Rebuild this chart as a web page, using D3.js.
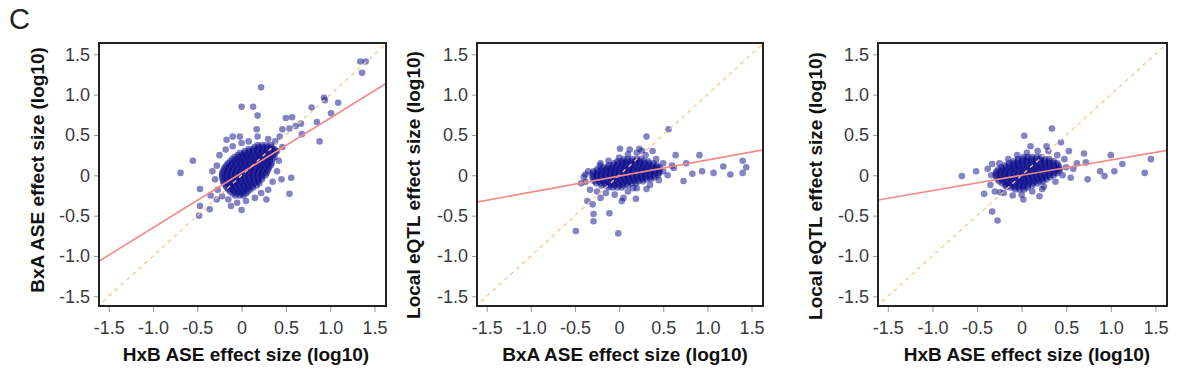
<!DOCTYPE html>
<html>
<head>
<meta charset="utf-8">
<script src="https://cdn.jsdelivr.net/npm/d3@7"></script>
<style>
  body { margin: 0; background: #fff; }
  svg { display: block; font-family: "Liberation Sans", Arial, Helvetica, sans-serif; }
</style>
</head>
<body>
<div id="chart"></div>
<script>
const tickValues = [-1.5, -1.0, -0.5, 0, 0.5, 1.0, 1.5];
const xTitles = ["HxB ASE effect size (log10)", "BxA ASE effect size (log10)", "HxB ASE effect size (log10)"];
const yTitles = ["BxA ASE effect size (log10)", "Local eQTL effect size (log10)", "Local eQTL effect size (log10)"];
// fitted lines: [slope, intercept]
const fits = [[0.68, 0.03], [0.20, -0.01], [0.19, 0.0]];

// dense cores, stored row by row: [y, [x values]]
const core1 = [
  [0.375, [0.18,0.23,0.28,0.33]],
  [0.35, [0.145,0.195,0.245,0.295,0.345]],
  [0.325, [0.08,0.13,0.18,0.23,0.28,0.33,0.37]],
  [0.30, [0.035,0.085,0.135,0.185,0.235,0.285,0.335,0.38]],
  [0.275, [-0.02,0.03,0.08,0.13,0.18,0.23,0.28,0.33,0.38]],
  [0.25, [-0.045,0.005,0.055,0.105,0.155,0.205,0.255,0.305,0.355]],
  [0.225, [-0.08,-0.03,0.02,0.07,0.12,0.17,0.22,0.27,0.32,0.37]],
  [0.20, [-0.105,-0.055,-0.005,0.045,0.095,0.145,0.195,0.245,0.295,0.345]],
  [0.175, [-0.13,-0.08,-0.03,0.02,0.07,0.12,0.17,0.22,0.27,0.32]],
  [0.15, [-0.155,-0.105,-0.055,-0.005,0.045,0.095,0.145,0.195,0.245,0.295,0.34]],
  [0.125, [-0.17,-0.12,-0.07,-0.02,0.03,0.08,0.13,0.18,0.23,0.28,0.33]],
  [0.10, [-0.19,-0.14,-0.09,-0.04,0.01,0.06,0.11,0.16,0.21,0.26,0.31]],
  [0.075, [-0.20,-0.15,-0.10,-0.05,0.00,0.05,0.10,0.15,0.20,0.25,0.30]],
  [0.05, [-0.21,-0.16,-0.11,-0.06,-0.01,0.04,0.09,0.14,0.19,0.24,0.29]],
  [0.025, [-0.22,-0.17,-0.12,-0.07,-0.02,0.03,0.08,0.13,0.18,0.23,0.28]],
  [0.00, [-0.22,-0.17,-0.12,-0.07,-0.02,0.03,0.08,0.13,0.18,0.23,0.27]],
  [-0.025, [-0.22,-0.17,-0.12,-0.07,-0.02,0.03,0.08,0.13,0.18,0.23]],
  [-0.05, [-0.21,-0.16,-0.11,-0.06,-0.01,0.04,0.09,0.14,0.19,0.23]],
  [-0.075, [-0.21,-0.16,-0.11,-0.06,-0.01,0.04,0.09,0.14,0.19]],
  [-0.10, [-0.20,-0.15,-0.10,-0.05,0.00,0.05,0.10,0.15,0.20]],
  [-0.125, [-0.18,-0.13,-0.08,-0.03,0.02,0.07,0.12,0.17]],
  [-0.15, [-0.17,-0.12,-0.07,-0.02,0.03,0.08,0.13]],
  [-0.175, [-0.15,-0.10,-0.05,0.00,0.05,0.10]],
  [-0.20, [-0.13,-0.08,-0.03,0.02,0.07]],
  [-0.225, [-0.10,-0.05,0.00,0.05]],
  [-0.25, [-0.07,-0.02,0.02]]
];
const core2 = [
  [0.20, [0.05,0.10,0.15,0.20,0.25]],
  [0.175, [-0.02,0.03,0.08,0.13,0.18,0.23,0.28,0.33]],
  [0.15, [-0.06,-0.01,0.04,0.09,0.14,0.19,0.24,0.29,0.34,0.39]],
  [0.125, [-0.12,-0.07,-0.02,0.03,0.08,0.13,0.18,0.23,0.28,0.33,0.38,0.43]],
  [0.10, [-0.18,-0.13,-0.08,-0.03,0.02,0.07,0.12,0.17,0.22,0.27,0.32,0.37,0.42,0.46]],
  [0.075, [-0.25,-0.20,-0.15,-0.10,-0.05,0.00,0.05,0.10,0.15,0.20,0.25,0.30,0.35,0.40,0.45]],
  [0.05, [-0.29,-0.24,-0.19,-0.14,-0.09,-0.04,0.01,0.06,0.11,0.16,0.21,0.26,0.31,0.36,0.41,0.46]],
  [0.025, [-0.30,-0.25,-0.20,-0.15,-0.10,-0.05,0.00,0.05,0.10,0.15,0.20,0.25,0.30,0.35,0.40,0.45]],
  [0.00, [-0.30,-0.25,-0.20,-0.15,-0.10,-0.05,0.00,0.05,0.10,0.15,0.20,0.25,0.30,0.35,0.40,0.44]],
  [-0.025, [-0.30,-0.25,-0.20,-0.15,-0.10,-0.05,0.00,0.05,0.10,0.15,0.20,0.25,0.30,0.35,0.40]],
  [-0.05, [-0.29,-0.24,-0.19,-0.14,-0.09,-0.04,0.01,0.06,0.11,0.16,0.21,0.26,0.31,0.36]],
  [-0.075, [-0.28,-0.23,-0.18,-0.13,-0.08,-0.03,0.02,0.07,0.12,0.17,0.22,0.27]],
  [-0.10, [-0.26,-0.21,-0.16,-0.11,-0.06,-0.01,0.04,0.09,0.14,0.19]],
  [-0.125, [-0.20,-0.15,-0.10,-0.05,0.00,0.05,0.10]],
  [-0.15, [-0.12,-0.07,-0.02,0.03]]
];
const core3 = [
  [0.225, [0.02,0.07,0.12,0.17,0.22]],
  [0.20, [-0.04,0.01,0.06,0.11,0.16,0.21,0.26,0.31]],
  [0.175, [-0.09,-0.04,0.01,0.06,0.11,0.16,0.21,0.26,0.31,0.36]],
  [0.15, [-0.14,-0.09,-0.04,0.01,0.06,0.11,0.16,0.21,0.26,0.31,0.36,0.40]],
  [0.125, [-0.19,-0.14,-0.09,-0.04,0.01,0.06,0.11,0.16,0.21,0.26,0.31,0.36,0.41]],
  [0.10, [-0.23,-0.18,-0.13,-0.08,-0.03,0.02,0.07,0.12,0.17,0.22,0.27,0.32,0.37,0.42]],
  [0.075, [-0.26,-0.21,-0.16,-0.11,-0.06,-0.01,0.04,0.09,0.14,0.19,0.24,0.29,0.34,0.39,0.43]],
  [0.05, [-0.28,-0.23,-0.18,-0.13,-0.08,-0.03,0.02,0.07,0.12,0.17,0.22,0.27,0.32,0.37,0.42]],
  [0.025, [-0.29,-0.24,-0.19,-0.14,-0.09,-0.04,0.01,0.06,0.11,0.16,0.21,0.26,0.31,0.36,0.40]],
  [0.00, [-0.29,-0.24,-0.19,-0.14,-0.09,-0.04,0.01,0.06,0.11,0.16,0.21,0.26,0.31,0.36]],
  [-0.025, [-0.28,-0.23,-0.18,-0.13,-0.08,-0.03,0.02,0.07,0.12,0.17,0.22,0.27,0.32]],
  [-0.05, [-0.27,-0.22,-0.17,-0.12,-0.07,-0.02,0.03,0.08,0.13,0.18,0.23,0.28]],
  [-0.075, [-0.25,-0.20,-0.15,-0.10,-0.05,0.00,0.05,0.10,0.15,0.20,0.24]],
  [-0.10, [-0.22,-0.17,-0.12,-0.07,-0.02,0.03,0.08,0.13,0.18]],
  [-0.125, [-0.18,-0.13,-0.08,-0.03,0.02,0.07,0.12]],
  [-0.15, [-0.13,-0.08,-0.03,0.02,0.07]],
  [-0.175, [-0.07,-0.02,0.03]]
];

// fringe and isolated points: [x, y]
const halo1 = [
  [-0.28,0.12],[-0.30,-0.05],[-0.27,-0.18],[-0.25,0.25],[-0.18,0.32],[-0.10,0.36],[0.00,0.40],[0.08,0.42],
  [0.40,0.30],[0.42,0.18],[0.40,0.05],[0.35,-0.08],[0.30,-0.18],[0.22,-0.22],[0.15,-0.28],[0.05,-0.32],
  [-0.05,-0.34],[-0.15,-0.30],[-0.22,-0.26],[-0.33,0.05],[0.46,0.35],[0.38,0.42],[0.30,0.45],[-0.35,-0.25],
  [0.45,-0.05],[0.18,0.48],[-0.12,-0.38],[0.28,-0.30]
];
const outer1 = [
  [1.34,1.41],[1.40,1.41],[1.36,1.27],[0.22,1.09],[0.00,0.85],[0.13,0.85],[0.18,0.74],
  [0.93,0.96],[0.94,0.93],[1.09,0.90],[0.79,0.84],[1.01,0.77],[0.85,0.66],[0.88,0.42],[0.68,0.51],
  [0.67,0.64],[0.61,0.61],[0.54,0.58],[0.57,0.72],[0.46,0.57],[0.43,0.48],[0.50,0.71],[0.17,0.57],
  [-0.69,0.03],[-0.55,0.18],[-0.47,-0.17],[-0.47,-0.38],[-0.48,-0.50],[-0.36,-0.42],[-0.28,-0.30],
  [0.54,-0.23],[0.56,-0.03],[0.00,-0.43],[-0.10,0.48],[-0.17,0.44],[-0.02,0.48]
];
const halo2 = [
  [-0.35,0.05],[-0.38,-0.08],[-0.33,-0.18],[-0.25,-0.20],[-0.15,-0.22],[-0.05,-0.24],[0.10,-0.20],[0.20,-0.16],
  [0.35,-0.12],[0.45,-0.06],[0.50,0.05],[0.50,0.15],[0.42,0.20],[0.30,0.25],[0.20,0.28],[0.10,0.26],
  [0.00,0.22],[-0.12,0.18],[-0.22,0.12],[0.55,0.00],[0.60,0.12],[-0.40,-0.02],[0.05,-0.28],[0.26,0.30]
];
const outer2 = [
  [0.56,0.57],[0.31,0.48],[0.01,0.33],[0.91,0.25],[0.76,0.15],[0.64,0.25],[1.18,0.11],[1.40,0.18],
  [1.44,0.10],[1.26,0.01],[1.40,0.03],[1.07,0.03],[0.94,0.05],[0.83,0.02],[0.73,-0.07],[0.62,0.09],
  [-0.49,-0.69],[-0.01,-0.72],[-0.29,-0.57],[-0.29,-0.48],[-0.11,-0.47],[-0.30,-0.36],[-0.36,-0.32],
  [-0.21,-0.28],[0.03,-0.32],[0.19,-0.29],[-0.43,-0.10],[-0.38,0.01],[-0.21,0.15],[0.38,0.30],
  [0.12,0.32],[0.23,0.33],[0.16,-0.16],[0.31,-0.17]
];
const halo3 = [
  [-0.34,0.00],[-0.35,-0.12],[-0.30,-0.20],[-0.20,-0.22],[-0.10,-0.25],[0.00,-0.24],[0.12,-0.20],[0.25,-0.14],
  [0.38,-0.08],[0.46,0.00],[0.50,0.10],[0.48,0.20],[0.40,0.25],[0.30,0.30],[0.18,0.30],[0.06,0.28],
  [-0.05,0.25],[-0.15,0.20],[-0.25,0.15],[0.58,0.08],[0.62,0.15],[0.55,-0.03],[-0.38,0.08],[0.20,-0.26]
];
const outer3 = [
  [0.34,0.58],[0.03,0.49],[0.70,0.27],[1.00,0.25],[1.45,0.20],[1.13,0.14],[1.04,0.05],[0.88,0.05],
  [1.38,0.03],[0.93,-0.01],[0.72,0.16],[0.53,0.30],[0.44,0.41],[-0.33,0.14],[-0.51,0.05],[-0.67,-0.01],
  [-0.42,-0.23],[-0.33,-0.45],[-0.27,-0.56],[-0.24,-0.21],[0.02,-0.30],[0.23,-0.17],[0.74,-0.05],
  [0.10,0.36],[0.28,0.36],[-0.17,-0.14]
];

const unrow = rows => rows.flatMap(([yv, xs]) => xs.map(xv => [xv, yv]));

const panels = [
  {left: 99, right: 386, yTitleX: 37, yTitleY: 170, xTitleX: 246, pts: unrow(core1).concat(halo1, outer1)},
  {left: 477, right: 763, yTitleX: 413, yTitleY: 185, xTitleX: 625, pts: unrow(core2).concat(halo2, outer2)},
  {left: 878, right: 1167, yTitleX: 815, yTitleY: 186, xTitleX: 1027, pts: unrow(core3).concat(halo3, outer3)}
];

const width = 1181, height = 374;
const plotTop = 43, plotBottom = 306;

const svg = d3.select("#chart").append("svg")
  .attr("width", width)
  .attr("height", height);

svg.append("text")
  .attr("x", 9)
  .attr("y", 29)
  .style("font-size", "29px")
  .style("fill", "#222")
  .text("C");

const fmt = d => d === 0 ? "0" : d.toFixed(1);

panels.forEach((p, i) => {
  const x = d3.scaleLinear().domain([-1.61, 1.63]).range([p.left, p.right]);
  const y = d3.scaleLinear().domain([-1.62, 1.64]).range([plotBottom, plotTop]);

  const g = svg.append("g");

  svg.append("clipPath").attr("id", "clip" + i)
    .append("rect")
    .attr("x", p.left).attr("y", plotTop)
    .attr("width", p.right - p.left).attr("height", plotBottom - plotTop);

  const inner = g.append("g").attr("clip-path", `url(#clip${i})`);

  inner.selectAll("circle")
    .data(p.pts)
    .enter()
    .append("circle")
    .attr("cx", d => x(d[0]))
    .attr("cy", d => y(d[1]))
    .attr("r", 3.3)
    .attr("fill", "#0a0a8c")
    .attr("fill-opacity", 0.5);

  // identity line
  inner.append("line")
    .attr("x1", x(-1.7)).attr("y1", y(-1.7))
    .attr("x2", x(1.7)).attr("y2", y(1.7))
    .attr("stroke", "#f7c88c")
    .attr("stroke-width", 1.3)
    .attr("stroke-dasharray", "4,4");

  // regression line
  const [slope, icpt] = fits[i];
  inner.append("line")
    .attr("x1", x(-1.7)).attr("y1", y(-1.7 * slope + icpt))
    .attr("x2", x(1.7)).attr("y2", y(1.7 * slope + icpt))
    .attr("stroke", "#f28a88")
    .attr("stroke-width", 1.6);

  g.append("rect")
    .attr("x", p.left).attr("y", plotTop)
    .attr("width", p.right - p.left).attr("height", plotBottom - plotTop)
    .attr("fill", "none")
    .attr("stroke", "#222")
    .attr("stroke-width", 2);

  const xa = g.append("g")
    .attr("transform", `translate(0,${plotBottom + 1})`)
    .call(d3.axisBottom(x).tickValues(tickValues).tickFormat(fmt).tickSize(5).tickPadding(9));
  const ya = g.append("g")
    .attr("transform", `translate(${p.left - 1},0)`)
    .call(d3.axisLeft(y).tickValues(tickValues).tickFormat(fmt).tickSize(4).tickPadding(4));

  [xa, ya].forEach(a => {
    a.select(".domain").remove();
    a.selectAll("line").attr("stroke", "#999");
    a.selectAll("text")
      .style("font-size", "18px")
      .style("font-family", "'Liberation Sans', Arial, sans-serif")
      .attr("fill", "#3a3a3a");
  });

  g.append("text")
    .attr("x", p.xTitleX)
    .attr("y", 361)
    .attr("text-anchor", "middle")
    .style("font-size", "19px")
    .style("font-weight", "bold")
    .style("fill", "#111")
    .text(xTitles[i]);

  g.append("text")
    .attr("transform", `translate(${p.yTitleX},${p.yTitleY}) rotate(-90)`)
    .attr("text-anchor", "middle")
    .attr("dy", "0.35em")
    .style("font-size", "19px")
    .style("font-weight", "bold")
    .style("fill", "#111")
    .text(yTitles[i]);
});
</script>
</body>
</html>
